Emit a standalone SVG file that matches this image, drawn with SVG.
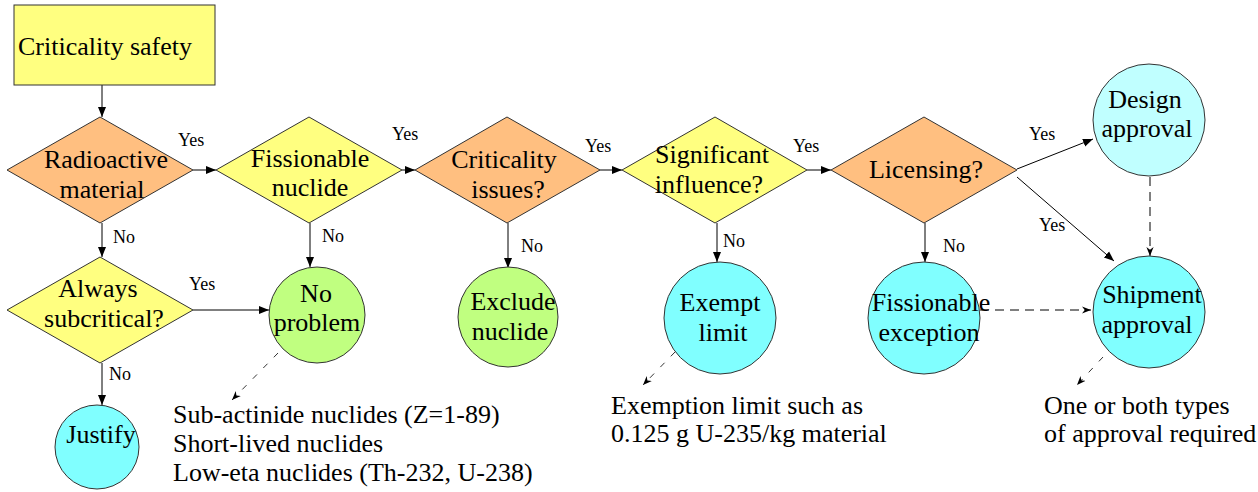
<svg xmlns="http://www.w3.org/2000/svg" width="1258" height="492" viewBox="0 0 1258 492">
<style>
.shape{stroke:#333;stroke-width:1}
.y{fill:#ffff80}
.o{fill:#ffbf80}
.g{fill:#c0ff80}
.c{fill:#80ffff}
.lc{fill:#c0ffff}
.ln{stroke:#000;stroke-width:1;fill:none}
.d1{stroke-dasharray:9 6}
.d2{stroke-dasharray:6 9;stroke-width:0.8}
</style>
<defs>
<marker id="ah" viewBox="0 0 10 10" refX="10" refY="5" markerWidth="10" markerHeight="10" markerUnits="userSpaceOnUse" orient="auto">
<path d="M0,1 L10,5 L0,9 Z" fill="#000"/>
</marker>
<marker id="ahs" viewBox="0 0 10 10" refX="10" refY="5" markerWidth="9" markerHeight="9" markerUnits="userSpaceOnUse" orient="auto">
<path d="M0,1 L10,5 L0,9 L3,5 Z" fill="#000"/>
</marker>
</defs>

<g id="connectors">
<line class="ln" x1="102" y1="85" x2="102" y2="117" marker-end="url(#ah)"/>
<line class="ln" x1="193" y1="170" x2="216" y2="170" marker-end="url(#ah)"/>
<line class="ln" x1="402" y1="170" x2="415" y2="170" marker-end="url(#ah)"/>
<line class="ln" x1="600" y1="170" x2="622" y2="170" marker-end="url(#ah)"/>
<line class="ln" x1="807" y1="170" x2="831" y2="170" marker-end="url(#ah)"/>
<line class="ln" x1="102" y1="223" x2="102" y2="257" marker-end="url(#ah)"/>
<line class="ln" x1="310" y1="223" x2="310" y2="267" marker-end="url(#ah)"/>
<line class="ln" x1="508" y1="223" x2="508" y2="268" marker-end="url(#ah)"/>
<line class="ln" x1="717" y1="223" x2="717" y2="262" marker-end="url(#ah)"/>
<line class="ln" x1="925" y1="223" x2="925" y2="262" marker-end="url(#ah)"/>
<line class="ln" x1="1017" y1="169" x2="1093" y2="139" marker-end="url(#ah)"/>
<line class="ln" x1="1017" y1="177" x2="1114" y2="261" marker-end="url(#ah)"/>
<line class="ln" x1="193" y1="310" x2="269" y2="310" marker-end="url(#ah)"/>
<line class="ln" x1="102" y1="363" x2="102" y2="405" marker-end="url(#ah)"/>
<line class="ln d1" x1="1150" y1="177" x2="1150" y2="256" marker-end="url(#ahs)"/>
<line class="ln d1" x1="980" y1="310" x2="1091" y2="310" marker-end="url(#ahs)"/>
<line class="ln d2" x1="278" y1="353" x2="232" y2="400" marker-end="url(#ahs)"/>
<line class="ln d2" x1="675" y1="352" x2="643" y2="385" marker-end="url(#ahs)"/>
<line class="ln d2" x1="1103" y1="357" x2="1077" y2="385" marker-end="url(#ahs)"/>
<text font-family="Liberation Serif" font-size="18" x="178" y="146">Yes</text>
<text font-family="Liberation Serif" font-size="18" x="392" y="140">Yes</text>
<text font-family="Liberation Serif" font-size="18" x="585" y="152">Yes</text>
<text font-family="Liberation Serif" font-size="18" x="793" y="152">Yes</text>
<text font-family="Liberation Serif" font-size="18" x="1029" y="140">Yes</text>
<text font-family="Liberation Serif" font-size="18" x="1039" y="231">Yes</text>
<text font-family="Liberation Serif" font-size="18" x="189" y="290">Yes</text>
<text font-family="Liberation Serif" font-size="18" x="113" y="243">No</text>
<text font-family="Liberation Serif" font-size="18" x="322" y="242">No</text>
<text font-family="Liberation Serif" font-size="18" x="521" y="252">No</text>
<text font-family="Liberation Serif" font-size="18" x="723" y="247">No</text>
<text font-family="Liberation Serif" font-size="18" x="943" y="252">No</text>
<text font-family="Liberation Serif" font-size="18" x="109" y="380">No</text>
</g>

<g id="criticality-safety">
<rect class="shape y" x="14" y="5" width="201" height="80"/>
<text font-family="Liberation Serif" font-size="26" x="18" y="55">Criticality safety</text>
</g>
<g id="radioactive-material" font-family="Liberation Serif" font-size="26" text-anchor="middle">
<polygon class="shape o" points="100,117 193,170 100,223 7,170"/>
<text font-family="Liberation Serif" x="106" y="168">Radioactive</text>
<text font-family="Liberation Serif" x="102" y="198">material</text>
</g>
<g id="fissionable-nuclide" font-size="26" text-anchor="middle">
<polygon class="shape y" points="309,117 402,170 309,223 216,170"/>
<text font-family="Liberation Serif" x="310" y="167">Fissionable</text>
<text font-family="Liberation Serif" x="310" y="196">nuclide</text>
</g>
<g id="criticality-issues" font-size="26" text-anchor="middle">
<polygon class="shape o" points="507,117 600,170 507,223 415,170"/>
<text font-family="Liberation Serif" x="504" y="168">Criticality</text>
<text font-family="Liberation Serif" x="508" y="198">issues?</text>
</g>
<g id="significant-influence" font-size="26" text-anchor="middle">
<polygon class="shape y" points="715,117 807,170 715,223 622,170"/>
<text font-family="Liberation Serif" x="712" y="163">Significant</text>
<text font-family="Liberation Serif" x="709" y="193">influence?</text>
</g>
<g id="licensing" font-size="26" text-anchor="middle">
<polygon class="shape o" points="924,117 1017,170 924,223 831,170"/>
<text font-family="Liberation Serif" x="926" y="178">Licensing?</text>
</g>
<g id="design-approval" font-size="26" text-anchor="middle">
<circle class="shape lc" cx="1149" cy="120" r="56"/>
<text font-family="Liberation Serif" x="1145" y="108">Design</text>
<text font-family="Liberation Serif" x="1147" y="137">approval</text>
</g>
<g id="always-subcritical" font-size="26" text-anchor="middle">
<polygon class="shape y" points="100,257 193,310 100,363 7,310"/>
<text font-family="Liberation Serif" x="98" y="297">Always</text>
<text font-family="Liberation Serif" x="104" y="327">subcritical?</text>
</g>
<g id="no-problem" font-size="26" text-anchor="middle">
<circle class="shape g" cx="317" cy="315" r="48"/>
<text font-family="Liberation Serif" x="316" y="302">No</text>
<text font-family="Liberation Serif" x="317" y="331">problem</text>
</g>
<g id="exclude-nuclide" font-size="26" text-anchor="middle">
<circle class="shape g" cx="508" cy="317" r="50"/>
<text font-family="Liberation Serif" x="513" y="310">Exclude</text>
<text font-family="Liberation Serif" x="510" y="340">nuclide</text>
</g>
<g id="exempt-limit" font-size="26" text-anchor="middle">
<circle class="shape c" cx="720" cy="318" r="56"/>
<text font-family="Liberation Serif" x="720" y="311">Exempt</text>
<text font-family="Liberation Serif" x="723" y="341">limit</text>
</g>
<g id="fissionable-exception" font-size="26" text-anchor="middle">
<circle class="shape c" cx="924" cy="318" r="56"/>
<text font-family="Liberation Serif" x="931" y="311">Fissionable</text>
<text font-family="Liberation Serif" x="929" y="341">exception</text>
</g>
<g id="shipment-approval" font-size="26" text-anchor="middle">
<circle class="shape c" cx="1149" cy="312" r="56"/>
<text font-family="Liberation Serif" x="1152" y="303">Shipment</text>
<text font-family="Liberation Serif" x="1147" y="333">approval</text>
</g>
<g id="justify" font-size="26" text-anchor="middle">
<circle class="shape c" cx="97" cy="447" r="42"/>
<text font-family="Liberation Serif" x="101" y="443">Justify</text>
</g>
<g id="note-nuclides" font-size="26">
<text font-family="Liberation Serif" x="173" y="423">Sub-actinide nuclides (Z=1-89)</text>
<text font-family="Liberation Serif" x="173" y="452">Short-lived nuclides</text>
<text font-family="Liberation Serif" x="173" y="481">Low-eta nuclides (Th-232, U-238)</text>
</g>
<g id="note-exemption" font-size="26">
<text font-family="Liberation Serif" x="611" y="414">Exemption limit such as</text>
<text font-family="Liberation Serif" x="611" y="442">0.125 g U-235/kg material</text>
</g>
<g id="note-approval" font-size="26">
<text font-family="Liberation Serif" x="1044" y="414">One or both types</text>
<text font-family="Liberation Serif" x="1044" y="442">of approval required</text>
</g>
</svg>
